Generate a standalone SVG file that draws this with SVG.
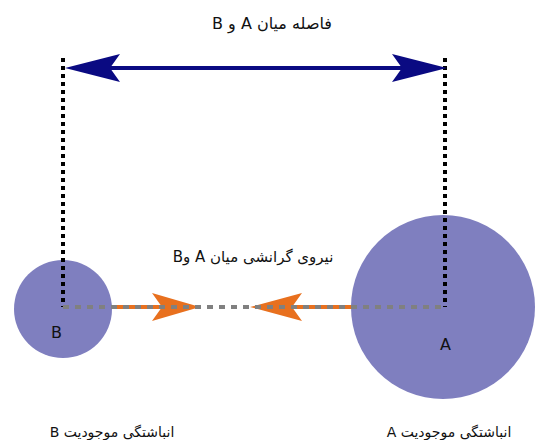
<svg xmlns="http://www.w3.org/2000/svg" width="535" height="440" viewBox="0 0 535 440">
<style>
text{font-family:"DejaVu Sans","Noto Sans",sans-serif;fill:#111}
.fa{direction:rtl;unicode-bidi:embed;text-anchor:middle}
.body{fill:#7f7fbf}
.vdot{stroke:#000;stroke-width:4;stroke-dasharray:4 4;fill:none}
.gdot{stroke:#808080;stroke-width:4;stroke-dasharray:6 6;fill:none}
.orange{stroke:#e8701e;stroke-width:4;fill:none}
</style>
<rect width="535" height="440" fill="#fff"/>
<g id="massA"><circle class="body" cx="443" cy="307" r="92"/><text x="440" y="350" font-size="16">A</text></g>
<g id="massB"><circle class="body" cx="63" cy="309" r="49"/><text x="51" y="338" font-size="16">B</text></g>
<g id="connectors">
<line class="vdot" x1="63" y1="58" x2="63" y2="307"/>
<line class="vdot" x1="445" y1="58" x2="445" y2="307"/>
<line x1="100" y1="68" x2="410" y2="68" stroke="#0a0a82" stroke-width="4"/>
<polygon points="65,68 120,54 110,68 120,82" fill="#0a0a82"/>
<polygon points="447,68 392,54 402,68 392,82" fill="#0a0a82"/>
<line class="orange" x1="112" y1="307" x2="170" y2="307"/>
<polygon points="200,307 152,293 162,307 152,321" fill="#e8701e"/>
<line class="orange" x1="280" y1="307" x2="352" y2="307"/>
<polygon points="250,307 302,293 292,307 302,321" fill="#e8701e"/>
<line class="gdot" x1="63" y1="307" x2="443" y2="307"/>
</g>
<g id="labels">
<text class="fa" x="272" y="29" font-size="16">فاصله میان A و B</text>
<text class="fa" x="253" y="262" font-size="15">نیروی گرانشی میان A وB</text>
<text class="fa" x="112" y="437" font-size="14">انباشتگی موجودیت B</text>
<text class="fa" x="449" y="437" font-size="14">انباشتگی موجودیت A</text>
</g>
</svg>
